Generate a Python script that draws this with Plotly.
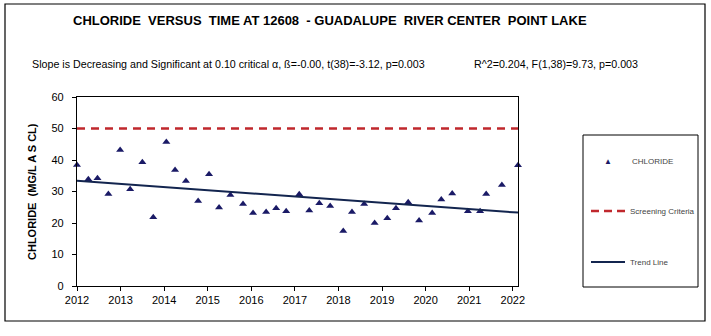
import plotly.graph_objects as go

# ---- data ----
years = [2012.00, 2012.26, 2012.47, 2012.72, 2012.99, 2013.22, 2013.50, 2013.75, 2014.05, 2014.25,
         2014.50, 2014.78, 2015.03, 2015.26, 2015.52, 2015.81, 2016.04, 2016.34, 2016.57, 2016.80,
         2017.10, 2017.33, 2017.56, 2017.81, 2018.11, 2018.31, 2018.59, 2018.83, 2019.12, 2019.32,
         2019.60, 2019.85, 2020.15, 2020.36, 2020.61, 2020.97, 2021.25, 2021.39, 2021.75, 2022.12]
chloride = [38.4, 33.9, 34.2, 29.2, 43.2, 30.7, 39.3, 21.8, 45.7, 36.8,
            33.3, 27.0, 35.5, 24.9, 28.9, 26.0, 23.2, 23.5, 24.7, 23.7,
            29.1, 24.0, 26.3, 25.4, 17.5, 23.5, 26.0, 20.0, 21.5, 24.7,
            26.6, 20.8, 23.2, 27.5, 29.4, 23.7, 23.7, 29.2, 32.1, 38.3]
trend_x = [2012.00, 2022.12]
trend_y = [33.4, 23.3]
screening_value = 50
x_ticks = list(range(2012, 2023))
y_ticks = [0, 10, 20, 30, 40, 50, 60]

title = "CHLORIDE  VERSUS  TIME AT 12608  - GUADALUPE  RIVER CENTER  POINT LAKE"
stats_left = "Slope is Decreasing and Significant at 0.10 critical \u03b1, \u00df=-0.00, t(38)=-3.12, p=0.003"
stats_right = "R^2=0.204, F(1,38)=9.73, p=0.003"
legend_names = ["CHLORIDE", "Screening Criteria", "Trend Line"]

# ---- layout geometry (pixels) ----
W, H = 711, 336
L, R, T, B = 77, 518, 97, 286
FONT = "Liberation Sans, Arial, sans-serif"
NAVY = "#1a1a66"
TREND = "#13254f"
RED = "#c0282d"

def px(x):
    return (x - L) / (R - L)

def py(y):
    return (B - y) / (B - T)

fig = go.Figure()
fig.add_trace(go.Scatter(x=years, y=chloride, mode="markers", name=legend_names[0],
                         marker=dict(symbol="triangle-up", size=7, color=NAVY),
                         showlegend=False, cliponaxis=False))
fig.add_trace(go.Scatter(x=[trend_x[0], trend_x[-1]], y=[screening_value, screening_value],
                         mode="lines", name=legend_names[1],
                         line=dict(color=RED, width=2.5, dash="8px,6px"), showlegend=False))
fig.add_trace(go.Scatter(x=trend_x, y=trend_y, mode="lines", name=legend_names[2],
                         line=dict(color=TREND, width=2), showlegend=False))

shapes = [
    # outer frame
    dict(type="rect", xref="paper", yref="paper", x0=px(5), x1=px(705), y0=py(4), y1=py(321),
         line=dict(color="black", width=1.2), layer="below"),
    # legend box
    dict(type="rect", xref="paper", yref="paper", x0=px(583), x1=px(698), y0=py(135), y1=py(287),
         line=dict(color="black", width=1)),
    # legend lines
    dict(type="line", xref="paper", yref="paper", x0=px(591), x1=px(625), y0=py(211), y1=py(211),
         line=dict(color=RED, width=2.5, dash="8px,5px")),
    dict(type="line", xref="paper", yref="paper", x0=px(591), x1=px(625), y0=py(262), y1=py(262),
         line=dict(color=TREND, width=2)),
]

ann = [
    dict(text="<b>" + title + "</b>", x=px(330), y=py(20), xref="paper", yref="paper",
         showarrow=False, font=dict(family=FONT, size=13, color="black"), xanchor="center", yanchor="middle"),
    dict(text=stats_left, x=px(30), y=py(64), xref="paper", yref="paper", showarrow=False,
         font=dict(family=FONT, size=10.7, color="black"), xanchor="left", yanchor="middle"),
    dict(text=stats_right, x=px(472), y=py(64), xref="paper", yref="paper", showarrow=False,
         font=dict(family=FONT, size=10.7, color="black"), xanchor="left", yanchor="middle"),
    dict(text="<b>CHLORIDE  (MG/L A S CL)</b>", x=px(32), y=py(192), xref="paper", yref="paper",
         showarrow=False, textangle=-90, font=dict(family=FONT, size=11, color="black"),
         xanchor="center", yanchor="middle"),
    dict(text="\u25b2", x=px(608), y=py(161), xref="paper", yref="paper", showarrow=False,
         font=dict(family=FONT, size=8, color=NAVY), xanchor="center", yanchor="middle"),
    dict(text=legend_names[0], x=px(630), y=py(161), xref="paper", yref="paper", showarrow=False,
         font=dict(family=FONT, size=8, color="#444444"), xanchor="left", yanchor="middle"),
    dict(text=legend_names[1], x=px(628), y=py(211), xref="paper", yref="paper", showarrow=False,
         font=dict(family=FONT, size=8, color="#444444"), xanchor="left", yanchor="middle"),
    dict(text=legend_names[2], x=px(628), y=py(262), xref="paper", yref="paper", showarrow=False,
         font=dict(family=FONT, size=8, color="#444444"), xanchor="left", yanchor="middle"),
]

fig.update_layout(
    width=W, height=H, margin=dict(l=L, r=W - R, t=T, b=H - B, pad=0),
    paper_bgcolor="white", plot_bgcolor="white", showlegend=False,
    font=dict(family=FONT, size=11, color="black"),
    shapes=shapes, annotations=ann,
    xaxis=dict(range=[2012, 2022.12], tickvals=x_ticks, ticks="outside", ticklen=4, tickcolor="black",
               showline=True, linecolor="black", linewidth=1.2, mirror=True, showgrid=False, zeroline=False,
               tickfont=dict(family=FONT, size=11, color="black")),
    yaxis=dict(range=[0, 60], tickvals=y_ticks, ticks="outside", ticklen=4, tickcolor="black",
               showline=True, linecolor="black", linewidth=1.2, mirror=True, showgrid=False, zeroline=False,
               tickfont=dict(family=FONT, size=11, color="black"), ticklabelstandoff=6),
)

fig.write_html("out.html")
